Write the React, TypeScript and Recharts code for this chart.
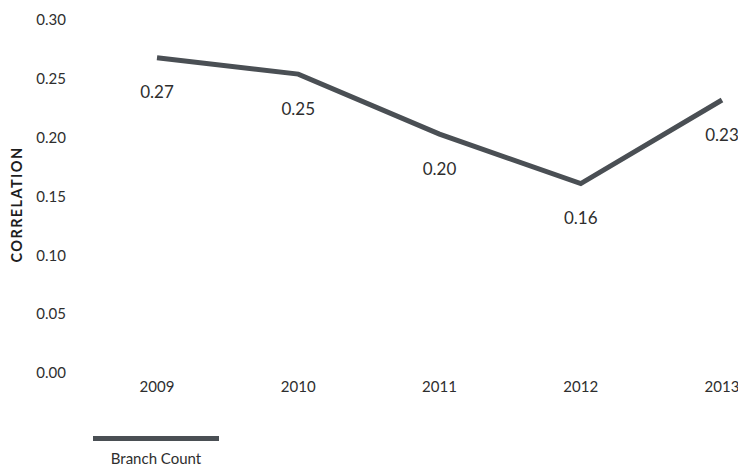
import { CartesianGrid, Legend, Line, LineChart, XAxis, YAxis } from 'recharts';

const years = ['2009', '2010', '2011', '2012', '2013'];
const branchCount = [0.268, 0.254, 0.203, 0.161, 0.232];
const yTicks = [0, 0.05, 0.1, 0.15, 0.2, 0.25, 0.3];

const data = years.map((year, i) => ({ year, branchCount: branchCount[i] }));

const LINE_COLOR = '#4a4f54';
const TEXT_COLOR = '#2e2e2e';
const FONT = 'Lato, "Open Sans", sans-serif';

function ValueLabel(props: any) {
  const { x, y, value } = props;
  return (
    <text
      x={x}
      y={y + 34}
      textAnchor="middle"
      dominantBaseline="central"
      fill={TEXT_COLOR}
      fontSize={17}
      fontFamily={FONT}
    >
      {Number(value).toFixed(2)}
    </text>
  );
}

function AxisTitle(props: any) {
  const { viewBox } = props;
  const cx = 16;
  const cy = viewBox.y + viewBox.height / 2 + 8;
  return (
    <text
      x={cx}
      y={cy}
      transform={`rotate(-90, ${cx}, ${cy})`}
      textAnchor="middle"
      dominantBaseline="central"
      fill="#1e1e1e"
      fontSize={14.5}
      fontWeight={700}
      letterSpacing={1.4}
      fontFamily={FONT}
    >
      CORRELATION
    </text>
  );
}

function LegendContent(props: any) {
  const { payload } = props;
  return (
    <div style={{ height: 32, fontFamily: FONT }}>
      {(payload || []).map((entry: any) => (
        <div key={entry.value} style={{ width: 126, textAlign: 'center' }}>
          <div style={{ height: 5, background: LINE_COLOR }} />
          <div style={{ marginTop: 9, fontSize: 15, lineHeight: '16px', color: TEXT_COLOR }}>{entry.value}</div>
        </div>
      ))}
    </div>
  );
}

export default function App() {
  return (
    <div style={{ width: 738, height: 468, overflow: 'hidden' }}>
      <style>{'body { margin: 0; }'}</style>
      <LineChart width={738} height={468} data={data} margin={{ top: 20, right: 0, bottom: 33, left: 0 }}>
        <CartesianGrid stroke="none" />
        <XAxis
          dataKey="year"
          axisLine={false}
          tickLine={false}
          padding={{ left: 67, right: 16 }}
          tick={{ fill: TEXT_COLOR, fontSize: 15, fontFamily: FONT }}
        />
        <YAxis
          width={90}
          domain={[0, 0.3]}
          ticks={yTicks}
          axisLine={false}
          tickLine={false}
          tickSize={0}
          tickMargin={24}
          tickFormatter={(v: number) => v.toFixed(2)}
          tick={{ fill: TEXT_COLOR, fontSize: 15, fontFamily: FONT }}
          label={<AxisTitle />}
        />
        <Legend
          content={<LegendContent />}
          verticalAlign="bottom"
          wrapperStyle={{ left: 93, top: 436 }}
        />
        <Line
          type="linear"
          dataKey="branchCount"
          name="Branch Count"
          stroke={LINE_COLOR}
          strokeWidth={5}
          dot={false}
          activeDot={false}
          label={<ValueLabel />}
          isAnimationActive={false}
        />
      </LineChart>
    </div>
  );
}
